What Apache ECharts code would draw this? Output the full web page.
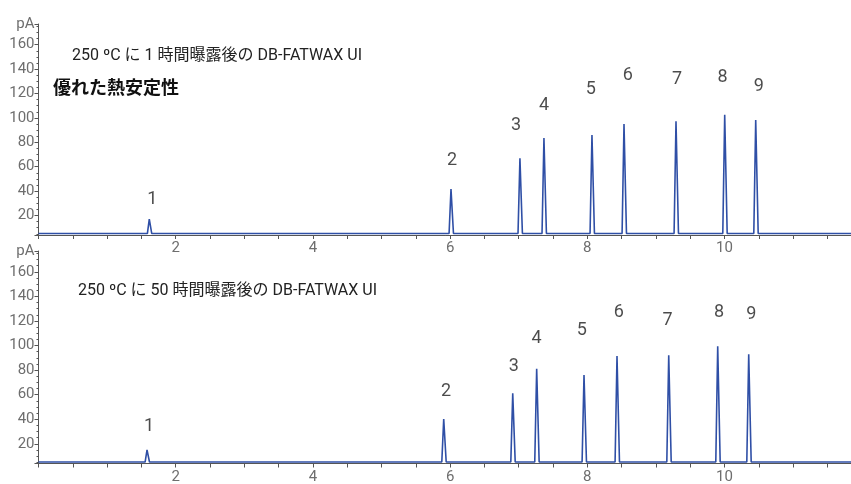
<!DOCTYPE html>
<html>
<head>
<meta charset="utf-8">
<script src="https://cdn.jsdelivr.net/npm/echarts@6/dist/echarts.min.js"></script>
<style>
  html, body { margin: 0; padding: 0; background: #fff; }
  #chart { width: 851px; height: 484px; }
</style>
</head>
<body>
<div id="chart"></div>
<script>
// peak numbers
const peakNames = ['1', '2', '3', '4', '5', '6', '7', '8', '9']

// 1 h exposure (top)
const rt1h = [1.615, 6.013, 7.018, 7.368, 8.068, 8.535, 9.293, 10.003, 10.455]
const height1h = [17.1, 41.7, 66.9, 83.5, 86.0, 95.0, 97.2, 102.6, 98.3]
const labelX1h = [1.66, 6.03, 6.96, 7.37, 8.05, 8.59, 9.31, 9.97, 10.50]
const labelY1h = [32.7, 64.7, 93.4, 110.0, 123.7, 134.4, 131.7, 133.0, 125.6]

// 50 h exposure (bottom)
const rt50h = [1.582, 5.907, 6.913, 7.262, 7.952, 8.433, 9.187, 9.901, 10.353]
const height50h = [15.0, 40.2, 61.2, 81.2, 76.0, 91.5, 92.1, 99.4, 92.9]
const labelX50h = [1.61, 5.94, 6.93, 7.26, 7.92, 8.46, 9.17, 9.92, 10.39]
const labelY50h = [34.0, 62.5, 82.8, 105.9, 112.1, 126.8, 120.3, 126.8, 124.9]

const baseline = 5.2
const runStart = 0
const runEnd = 12

const yMin = 4
const yMax = 177

// build trace: baseline, then each peak as up/down
const buildTrace = (rts, heights) => {
  const pts = [[runStart, baseline]]
  rts.forEach((t, i) => {
    pts.push([t - 0.028, baseline])
    pts.push([t, heights[i]])
    pts.push([t + 0.036, baseline])
  })
  pts.push([runEnd, baseline])
  return pts
}

const buildLabels = (xs, ys) => xs.map((x, i) => [x, ys[i], peakNames[i]])

const lineColor = '#2f4fa6'
const axisColor = '#555'
const labelColor = '#6e6e6e'

const xAxisOf = (gridIndex) => ({
  gridIndex,
  type: 'value',
  min: 0,
  max: 12,
  interval: 0.5,
  axisLine: { onZero: false, lineStyle: { color: axisColor, width: 1 } },
  axisTick: { show: true, length: 4, lineStyle: { color: axisColor } },
  axisLabel: {
    color: labelColor,
    fontFamily: 'Roboto',
    fontSize: 15,
    margin: 6,
    hideOverlap: false,
    formatter: v => (v > 0 && v % 2 === 0 ? String(v) : '')
  },
  splitLine: { show: false }
})

const yAxisOf = (gridIndex) => ({
  gridIndex,
  type: 'value',
  min: yMin,
  max: yMax,
  splitNumber: 9,
  axisLine: { show: true, lineStyle: { color: axisColor, width: 1 } },
  axisTick: { show: true, length: 4, lineStyle: { color: axisColor } },
  minorTick: { show: true, splitNumber: 4, length: 2, lineStyle: { color: axisColor } },
  axisLabel: {
    color: labelColor,
    fontFamily: 'Roboto',
    fontSize: 15,
    margin: 4,
    showMinLabel: false,
    formatter: v => (v >= yMax - 0.01 ? 'pA' : (v % 20 === 0 ? String(v) : ''))
  },
  splitLine: { show: false }
})

const labelSeries = (idx, data) => ({
  type: 'scatter',
  xAxisIndex: idx,
  yAxisIndex: idx,
  symbolSize: 0,
  silent: true,
  data,
  label: {
    show: true,
    position: 'inside',
    color: '#1e1e1e',
    fontFamily: 'Roboto',
    fontSize: 18,
    formatter: p => p.data[2]
  }
})

const traceSeries = (idx, data) => ({
  type: 'line',
  xAxisIndex: idx,
  yAxisIndex: idx,
  showSymbol: false,
  silent: true,
  data,
  lineStyle: { color: lineColor, width: 1.6 }
})

const chart = echarts.init(document.getElementById('chart'))
chart.setOption({
  animation: false,
  grid: [
    { left: 38.5, width: 823.2, top: 24, height: 211, outerBoundsMode: 'none', containLabel: false },
    { left: 38.5, width: 823.2, top: 251, height: 212.5, outerBoundsMode: 'none', containLabel: false }
  ],
  xAxis: [xAxisOf(0), xAxisOf(1)],
  yAxis: [yAxisOf(0), yAxisOf(1)],
  series: [
    traceSeries(0, buildTrace(rt1h, height1h)),
    traceSeries(1, buildTrace(rt50h, height50h)),
    labelSeries(0, buildLabels(labelX1h, labelY1h)),
    labelSeries(1, buildLabels(labelX50h, labelY50h))
  ],
  graphic: [
    {
      type: 'text', left: 72, top: 48,
      style: { text: '250 ºC に 1 時間曝露後の DB-FATWAX UI', fill: '#222', font: '16px Roboto, "Noto Sans CJK JP"' }
    },
    {
      type: 'text', left: 53, top: 78,
      style: { text: '優れた熱安定性', fill: '#111', font: 'bold 18px "Noto Sans CJK JP"' }
    },
    {
      type: 'text', left: 78, top: 283,
      style: { text: '250 ºC に 50 時間曝露後の DB-FATWAX UI', fill: '#222', font: '16px Roboto, "Noto Sans CJK JP"' }
    }
  ]
})
</script>
</body>
</html>
